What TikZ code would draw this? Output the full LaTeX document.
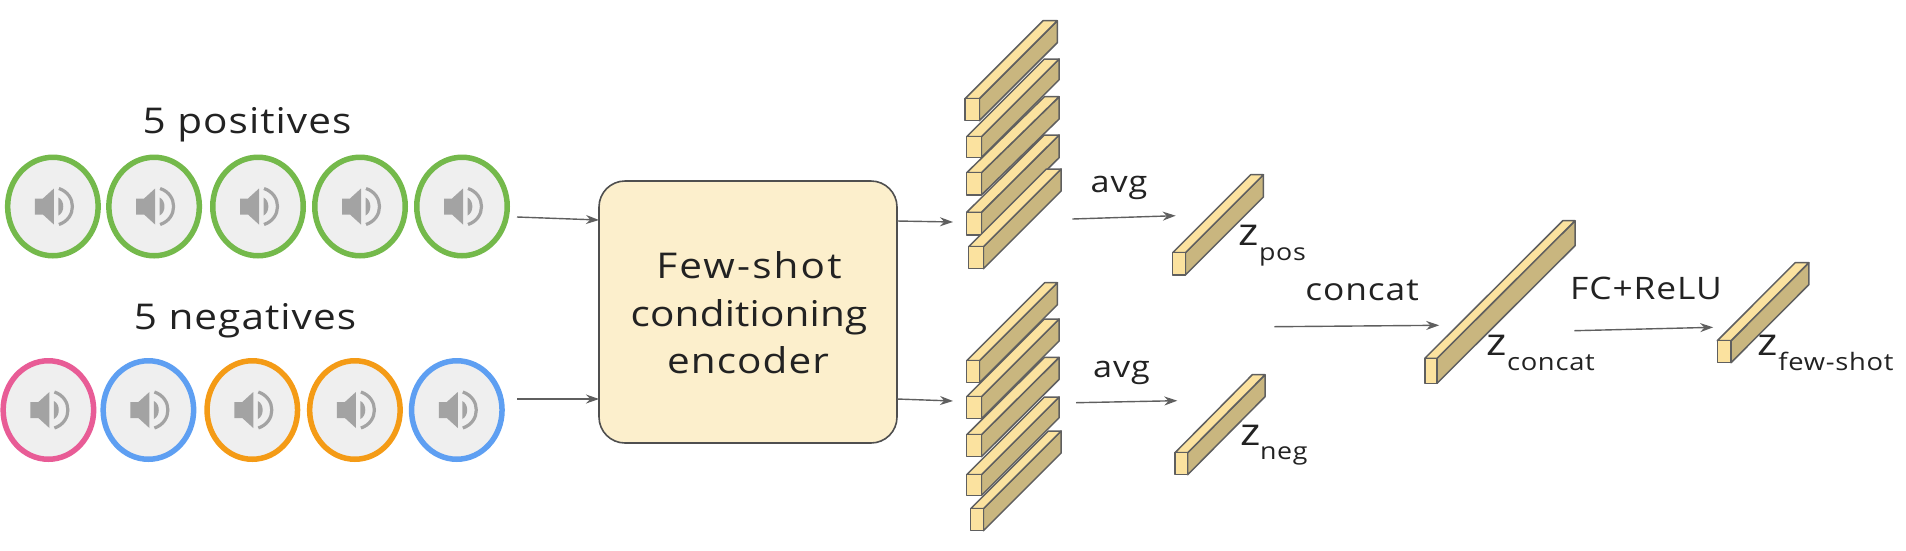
\documentclass[tikz,border=0pt]{standalone}
\usepackage{fontspec}
\setmainfont[FakeStretch=1.14,LetterSpace=3]{Open Sans}
\usetikzlibrary{arrows.meta,shapes.geometric}
\definecolor{cgreen}{HTML}{74B94B}
\definecolor{cpink}{HTML}{E85C96}
\definecolor{cblue}{HTML}{5E9FF2}
\definecolor{corange}{HTML}{F49B16}
\definecolor{cdisc}{HTML}{EFEFEF}
\definecolor{cicon}{HTML}{A3A3A3}
\definecolor{cline}{HTML}{5F5F5F}
\definecolor{cedge}{HTML}{4F4F4F}
\definecolor{cbox}{HTML}{FCEFCC}
\definecolor{cfront}{HTML}{FBE29F}
\definecolor{cside}{HTML}{C9B67F}
\definecolor{ctext}{HTML}{222222}
\tikzset{
  x=1pt,y=-1pt,
  disc/.style={ellipse,draw=#1,fill=cdisc,line width=5.5pt,minimum width=90.5pt,minimum height=98.5pt,inner sep=0pt,outer sep=0pt},
  arr/.style={draw=cline,line width=1.4pt,-{Stealth[length=13pt,width=9pt]}},
  encoder/.style={rectangle,rounded corners=26pt,draw=cedge,fill=cbox,line width=1.6pt,minimum width=298pt,minimum height=262pt,inner sep=0pt,outer sep=0pt},
  bar/.style={draw=cline,line width=1.5pt,line join=round},
  lab/.style={inner sep=0pt,outer sep=0pt,anchor=base,text=ctext},
  labw/.style={inner sep=0pt,outer sep=0pt,anchor=base west,text=ctext},
  spk/.pic={
    \fill[cicon] (-18,-8) -- (-10,-8) -- (1,-18) -- (1,18) -- (-10,8) -- (-18,8) -- cycle;
    \fill[cicon] (5.5,-9) .. controls (12,-6) and (12,6) .. (5.5,9) -- cycle;
    \draw[cicon,line width=3.2pt] (6,-18) .. controls (24,-12) and (24,12) .. (6,18);
  }
}
\newcommand{\fsz}[1]{\fontsize{#1}{#1}\selectfont}
\newcommand{\cuboid}[6]{%
  \begin{scope}[shift={(#1,#2)}]
    \draw[bar,fill=cside] (#3,0) -- ++(#5,#6) -- ++(0,#4) -- ++(-#5,-#6) -- cycle;
    \draw[bar,fill=cfront] (0,0) -- ++(#5,#6) -- ++(#3,0) -- ++(-#5,-#6) -- cycle;
    \draw[bar,fill=cfront] (0,0) rectangle (#3,#4);
  \end{scope}}
\begin{document}
\begin{tikzpicture}
\useasboundingbox (0,0) rectangle (1906,550);
\foreach \n/\cx in {1/52.9,2/154.1,3/258,4/360,5/462}{
  \node[disc=cgreen] (p\n) at (\cx,206.5) {};
  \pic at (\cx,206.5) {spk};
}
\foreach \n/\cx/\c in {1/48.4/cpink,2/148.4/cblue,3/252.3/corange,4/354.9/corange,5/456.8/cblue}{
  \node[disc=\c] (n\n) at (\cx,410) {};
  \pic at (\cx,410) {spk};
}
\node[lab] (tpos) at (247,133) {\fsz{35.5}5 positives};
\node[lab] (tneg) at (245,329) {\fsz{35.5}5 negatives};
% encoder
\node[encoder] (enc) at (748,312) {};
\node[lab] (e1) at (749,278) {\fsz{35.5}\addfontfeature{LetterSpace=6}Few-shot};
\node[lab] (e2) at (749,326) {\fsz{35.5}\addfontfeature{LetterSpace=0.5}conditioning};
\node[lab] (e3) at (748,373) {\fsz{35.5}encoder};
% positive bars
\cuboid{965}{98.7}{14.3}{22}{78}{-78}
\cuboid{966.7}{136.7}{14.7}{20.7}{77.7}{-77.7}
\cuboid{966.7}{172.7}{14.7}{22.3}{77.7}{-76}
\cuboid{966.7}{212.3}{14.7}{22.7}{77.7}{-77.3}
\cuboid{968.7}{246.7}{14.7}{22}{77.7}{-77.7}
\cuboid{1172.7}{252.7}{12.7}{22.3}{78}{-78}
% negative bars
\cuboid{966.7}{360.7}{12.7}{22}{78}{-78}
\cuboid{966.7}{396.7}{14.7}{22}{77.7}{-77.7}
\cuboid{966.7}{434.7}{14.7}{22}{77.7}{-77.3}
\cuboid{966.7}{474.7}{14.7}{20.7}{77.7}{-77.7}
\cuboid{970.7}{508.7}{12.7}{22}{77.7}{-77.7}
\cuboid{1175}{452.7}{12.7}{22}{77.3}{-78}
% concat, few-shot
\cuboid{1424.8}{358.3}{12.2}{25}{138}{-137.6}
\cuboid{1717.3}{340.7}{13.7}{22}{77.8}{-78}
% connector ends
\coordinate (a1) at (517,217); \coordinate (a2) at (599,220);
\coordinate (b1) at (517,399); \coordinate (b2) at (599,399);
\coordinate (c1) at (897,221); \coordinate (c2) at (953,222);
\coordinate (d1) at (897,399); \coordinate (d2) at (953,401);
\coordinate (f1) at (1072.3,219); \coordinate (f2) at (1175.7,215.7);
\coordinate (g1) at (1076,402.7); \coordinate (g2) at (1177.3,400.7);
\coordinate (h1) at (1274.4,326.7); \coordinate (h2) at (1439.2,325.3);
\coordinate (i1) at (1574.4,330.7); \coordinate (i2) at (1713.2,327.3);
\foreach \s/\t in {a1/a2,b1/b2,c1/c2,d1/d2,f1/f2,g1/g2,h1/h2,i1/i2}{
  \draw[arr] (\s) -- (\t);
}
% labels
\node[lab] (l1) at (1119,192) {\fsz{30}avg};
\node[lab] (l2) at (1121.5,377) {\fsz{30}avg};
\node[lab] (l3) at (1362,300) {\fsz{31}concat};
\node[lab] (l4) at (1646,299) {\fsz{31}FC+ReLU};
\node[labw] (z1) at (1238,245) {\fsz{38}z};
\node[labw] (z1s) at (1259,260) {\fsz{23.5}pos};
\node[labw] (z2) at (1240,445) {\fsz{38}z};
\node[labw] (z2s) at (1260,459) {\fsz{23.5}neg};
\node[labw] (z3) at (1486.6,355) {\fsz{38}z};
\node[labw] (z3s) at (1507,370.7) {\fsz{24}concat};
\node[labw] (z4) at (1757.7,355) {\fsz{38}z};
\node[labw] (z4s) at (1778.3,370) {\fsz{24}few-shot};
\end{tikzpicture}
\end{document}
